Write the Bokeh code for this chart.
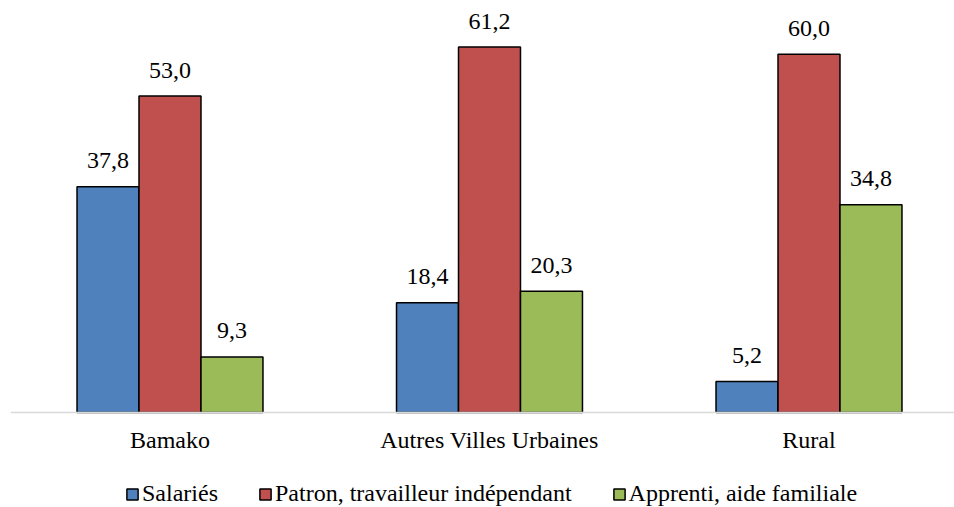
from bokeh.plotting import figure
from bokeh.models import ColumnDataSource, Range1d, Legend, LegendItem, Span
from bokeh.core.properties import value
from bokeh.embed import file_html
from bokeh.resources import INLINE

categories = ["Bamako", "Autres Villes Urbaines", "Rural"]
series_names = ["Salariés", "Patron, travailleur indépendant", "Apprenti, aide familiale"]
salaries = [37.8, 18.4, 5.2]
patron = [53.0, 61.2, 60.0]
apprenti = [9.3, 20.3, 34.8]
colors = ["#4F81BD", "#C0504D", "#9BBB59"]

FONT = "Liberation Serif"
bar_w = 0.194
offsets = [-bar_w, 0.0, bar_w]

p = figure(width=954, height=507, output_backend="svg", toolbar_location=None,
           x_range=Range1d(-0.4992, 2.4554), y_range=Range1d(-15.91, 69.0),
           x_axis_location=None, y_axis_location=None,
           min_border_left=10, min_border_right=0, min_border_top=0, min_border_bottom=0)
p.outline_line_color = None
p.xgrid.grid_line_color = None
p.ygrid.grid_line_color = None

# category axis: baseline line and category labels placed through the data scales
p.add_layout(Span(location=0, dimension="width", line_color="#D9D9D9", line_width=1.5))
cat_src = ColumnDataSource(dict(x=list(range(len(categories))), y=[0] * len(categories),
                                lab=categories))
p.text(x="x", y="y", text="lab", source=cat_src, text_font=value(FONT),
       text_font_size="24px", text_align="center", text_baseline="alphabetic",
       y_offset=27, text_color="black")

renderers = []
for name, vals, col, off in zip(series_names, [salaries, patron, apprenti], colors, offsets):
    src = ColumnDataSource(dict(
        x=[i + off for i in range(len(categories))],
        top=vals,
        lab=[f"{v:.1f}".replace(".", ",") for v in vals],
    ))
    r = p.vbar(x="x", top="top", bottom=0, width=bar_w, source=src, fill_color=col,
               line_color="black", line_width=1.5)
    p.text(x="x", y="top", text="lab", source=src, text_font=value(FONT),
           text_font_size="24px", text_align="center", text_baseline="alphabetic",
           y_offset=-26, text_color="black")
    renderers.append((name, r))

legend = Legend(items=[LegendItem(label=n, renderers=[r]) for n, r in renderers],
                orientation="horizontal", location=(115, 0),
                glyph_width=14, glyph_height=14, label_standoff=3, spacing=40,
                padding=0, margin=0, border_line_color=None,
                background_fill_alpha=0, label_text_font=FONT,
                label_text_font_size="24px", label_text_color="black")
p.add_layout(legend, "center")

open("out.html", "w").write(file_html(p, INLINE))
